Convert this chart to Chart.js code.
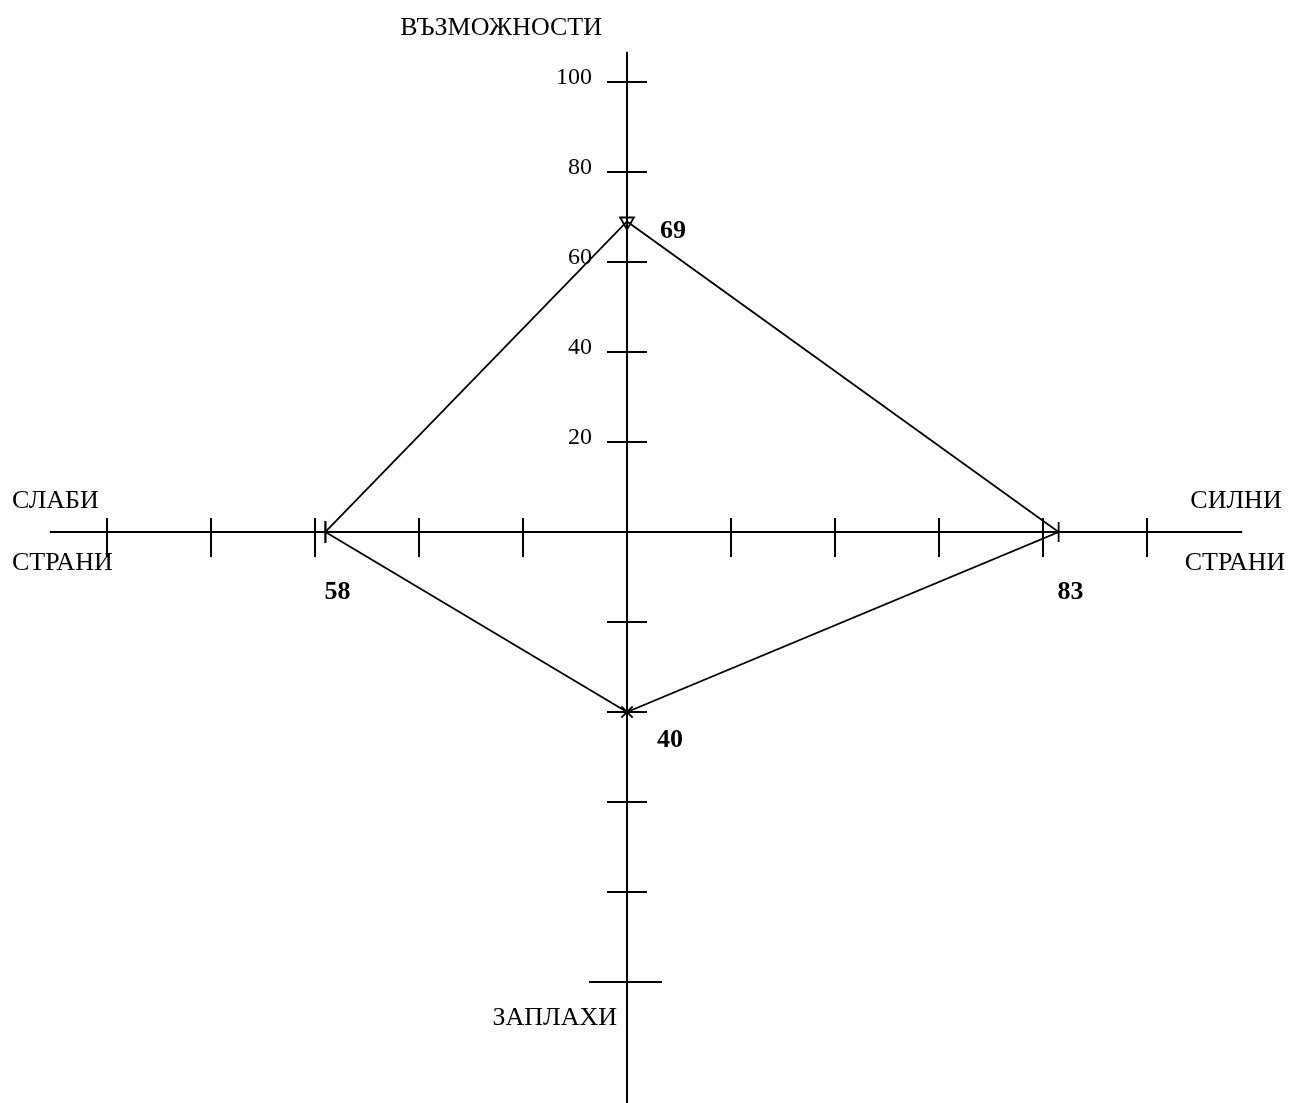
<!DOCTYPE html>
<html>
<head>
<meta charset="utf-8">
<script src="https://cdn.jsdelivr.net/npm/chart.js@4/dist/chart.umd.min.js"></script>
<style>
    body { margin: 0; background: #fff; }
    #wrap { width: 1292px; height: 1103px; position: relative; }
</style>
</head>
<body>
<div id="wrap"><canvas id="swotChart"></canvas></div>
<script>
// SWOT scores, one per axis direction
const directions = ['Слаби страни', 'Възможности', 'Силни страни', 'Заплахи'];
const scores = [58, 69, 83, 40];
// unit vectors for each direction (left, up, right, down)
const dirX = [-1, 0, 1, 0];
const dirY = [0, 1, 0, -1];

// axis scale ticks
const tickValues = [20, 40, 60, 80, 100];
const tickLabels = ['20', '40', '60', '80', '100'];

const FONT = "'Liberation Serif', 'Times New Roman', serif";

const points = scores.map((v, i) => ({ x: dirX[i] * v, y: dirY[i] * v }));
points.push(points[0]);

const crossAxes = {
    id: 'crossAxes',
    beforeDatasetsDraw(chart) {
        const ctx = chart.ctx;
        const xs = chart.scales.x;
        const ys = chart.scales.y;
        const area = chart.chartArea;
        const x0 = xs.getPixelForValue(0);
        const y0 = ys.getPixelForValue(0);

        ctx.save();
        ctx.strokeStyle = '#000';
        ctx.lineWidth = 2;

        // main cross
        ctx.beginPath();
        ctx.moveTo(xs.getPixelForValue(-111), y0);
        ctx.lineTo(xs.getPixelForValue(118.3), y0);
        ctx.moveTo(x0, ys.getPixelForValue(106.7));
        ctx.lineTo(x0, area.bottom);
        ctx.stroke();

        // tick marks
        ctx.beginPath();
        tickValues.forEach(t => {
            // horizontal axis, both sides
            [-t, t].forEach(v => {
                const px = xs.getPixelForValue(v);
                ctx.moveTo(px, y0 - 14);
                ctx.lineTo(px, y0 + 25);
            });
            // vertical axis, up
            let py = ys.getPixelForValue(t);
            ctx.moveTo(x0 - 20, py);
            ctx.lineTo(x0 + 20, py);
            // vertical axis, down (last one longer)
            py = ys.getPixelForValue(-t);
            const long = t === tickValues[tickValues.length - 1];
            ctx.moveTo(x0 - (long ? 38 : 20), py);
            ctx.lineTo(x0 + (long ? 35 : 20), py);
        });
        ctx.stroke();

        // tick labels on the upper axis
        ctx.fillStyle = '#000';
        ctx.font = '24px ' + FONT;
        ctx.textAlign = 'right';
        ctx.textBaseline = 'middle';
        tickValues.forEach((t, i) => {
            ctx.fillText(tickLabels[i], x0 - 35, ys.getPixelForValue(t) - 4);
        });

        // axis titles
        ctx.font = '26px ' + FONT;
        ctx.textBaseline = 'alphabetic';
        ctx.textAlign = 'right';
        ctx.fillText('ВЪЗМОЖНОСТИ', x0 - 25, 35);
        ctx.fillText('ЗАПЛАХИ', x0 - 10, 1025);
        ctx.textAlign = 'left';
        ctx.fillText('СЛАБИ', 12, y0 - 24);
        ctx.fillText('СТРАНИ', 12, y0 + 38);
        ctx.textAlign = 'center';
        ctx.fillText('СИЛНИ', 1236, y0 - 24);
        ctx.fillText('СТРАНИ', 1235, y0 + 38);
        ctx.restore();
    },
    afterDatasetsDraw(chart) {
        const ctx = chart.ctx;
        const xs = chart.scales.x;
        const ys = chart.scales.y;
        ctx.save();
        ctx.fillStyle = '#000';
        ctx.font = 'bold 26px ' + FONT;
        ctx.textAlign = 'center';
        ctx.textBaseline = 'middle';
        scores.forEach((v, i) => {
            const px = xs.getPixelForValue(points[i].x);
            const py = ys.getPixelForValue(points[i].y);
            let dx, dy;
            if (dirY[i] === 0) { dx = 12; dy = 60; }
            else if (dirY[i] > 0) { dx = 46; dy = 10; }
            else { dx = 43; dy = 28; }
            ctx.fillText(String(v), px + dx, py + dy);
        });
        ctx.restore();
    }
};

const config = {
    type: 'scatter',
    data: {
        datasets: [{
            label: 'SWOT',
            data: points,
            showLine: true,
            borderColor: '#000',
            borderWidth: 1.8,
            fill: false,
            tension: 0,
            pointStyle: ['line', 'triangle', 'line', 'crossRot', 'line'],
            rotation: [90, 180, 90, 0, 90],
            pointRadius: [11, 8, 10, 8, 11],
            pointBorderColor: '#000',
            pointBackgroundColor: 'rgba(0,0,0,0)',
            pointBorderWidth: 1.8
        }]
    },
    options: {
        responsive: true,
        maintainAspectRatio: false,
        animation: false,
        layout: { padding: 0, autoPadding: false },
        plugins: {
            legend: { display: false },
            tooltip: { enabled: false }
        },
        scales: {
            x: { type: 'linear', min: -120.58, max: 127.88, display: false },
            y: { type: 'linear', min: -126.89, max: 118.22, display: false }
        }
    },
    plugins: [crossAxes]
};

const ctx = document.getElementById('swotChart').getContext('2d');
new Chart(ctx, config);
</script>
</body>
</html>
